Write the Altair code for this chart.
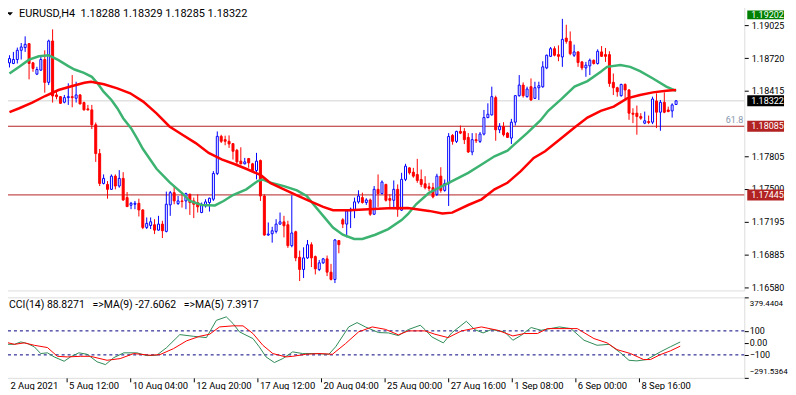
import altair as alt
import pandas as pd

FONT = "Roboto"
symbol = "EURUSD,H4"

# ---------------- candles ----------------
opens = [1.18676,1.18670,1.18707,1.18793,1.18818,1.18855,1.18676,1.18571,1.18608,1.18707,
         1.18494,1.18880,1.18377,1.18361,1.18309,1.18352,1.18361,1.18346,1.18377,1.18306,
         1.18247,1.18238,1.18099,1.17830,1.17552,1.17543,1.17497,1.17620,1.17528,1.17599,
         1.17420,1.17349,1.17358,1.17367,1.17305,1.17142,1.17160,1.17167,1.17117,1.17173,
         1.17105,1.17352,1.17466,1.17364,1.17389,1.17389,1.17451,1.17389,1.17374,1.17281,
         1.17343,1.17374,1.17405,1.17645,1.17991,1.17960,1.17945,1.17923,1.17861,1.17760,
         1.17735,1.17784,1.17735,1.17673,1.17766,1.17435,1.17071,1.17083,1.17105,1.17173,
         1.17194,1.17167,1.16972,1.17102,1.16864,1.16750,1.16858,1.16981,1.16870,1.16750,
         1.16812,1.16849,1.16725,1.16657,1.17019,1.17213,1.17173,1.17296,1.17303,1.17380,
         1.17420,1.17374,1.17398,1.17265,1.17497,1.17457,1.17543,1.17411,1.17395,1.17497,
         1.17303,1.17590,1.17697,1.17657,1.17635,1.17589,1.17549,1.17521,1.17512,1.17450,
         1.17620,1.17487,1.17549,1.18000,1.17944,1.18037,1.18037,1.17981,1.17845,1.17960,
         1.17944,1.18012,1.18166,1.18191,1.18352,1.18052,1.18083,1.18021,1.17975,1.18123,
         1.18370,1.18469,1.18361,1.18454,1.18345,1.18444,1.18453,1.18629,1.18737,1.18808,
         1.18753,1.18731,1.18907,1.18876,1.18747,1.18778,1.18685,1.18629,1.18648,1.18700,
         1.18670,1.18778,1.18753,1.18753,1.18494,1.18444,1.18370,1.18475,1.18423,1.18207,
         1.18207,1.18176,1.18114,1.18129,1.18123,1.18321,1.18216,1.18308,1.18237,1.18228,
         1.18288]
highs = [1.18747,1.18778,1.18818,1.18861,1.18923,1.18861,1.18685,1.18639,1.18747,1.18793,
         1.18892,1.18988,1.18407,1.18367,1.18377,1.18485,1.18562,1.18500,1.18386,1.18315,
         1.18284,1.18284,1.18120,1.17873,1.17636,1.17574,1.17636,1.17636,1.17676,1.17657,
         1.17472,1.17380,1.17389,1.17410,1.17312,1.17235,1.17235,1.17219,1.17250,1.17204,
         1.17476,1.17482,1.17528,1.17435,1.17451,1.17466,1.17457,1.17420,1.17451,1.17374,
         1.17405,1.17420,1.17667,1.18037,1.18006,1.17997,1.18000,1.17929,1.17874,1.17889,
         1.17790,1.17790,1.17744,1.17837,1.17775,1.17451,1.17188,1.17148,1.17219,1.17281,
         1.17250,1.17204,1.17441,1.17111,1.16926,1.16957,1.17025,1.17003,1.16880,1.16839,
         1.16858,1.16880,1.16802,1.17034,1.17025,1.17228,1.17312,1.17327,1.17420,1.17488,
         1.17466,1.17414,1.17411,1.17528,1.17636,1.17580,1.17549,1.17451,1.17580,1.17543,
         1.17651,1.17735,1.17703,1.17697,1.17781,1.17682,1.17620,1.17558,1.17558,1.17642,
         1.17703,1.17589,1.18021,1.18012,1.18043,1.18092,1.18068,1.18021,1.18021,1.18021,
         1.18031,1.18237,1.18299,1.18454,1.18370,1.18114,1.18123,1.18031,1.18154,1.18376,
         1.18562,1.18494,1.18454,1.18531,1.18500,1.18500,1.18691,1.18753,1.18824,1.18830,
         1.18839,1.19086,1.19031,1.18969,1.18846,1.18784,1.18691,1.18685,1.18716,1.18707,
         1.18802,1.18833,1.18815,1.18784,1.18577,1.18453,1.18481,1.18484,1.18432,1.18253,
         1.18278,1.18207,1.18222,1.18185,1.18361,1.18392,1.18330,1.18401,1.18268,1.18299,
         1.18329]
lows = [1.18633,1.18664,1.18670,1.18707,1.18778,1.18522,1.18593,1.18562,1.18602,1.18398,
        1.18469,1.18306,1.18336,1.18293,1.18299,1.18284,1.18262,1.18306,1.18290,1.18231,
        1.18231,1.18059,1.17753,1.17528,1.17543,1.17410,1.17491,1.17497,1.17512,1.17389,
        1.17333,1.17312,1.17312,1.17244,1.17126,1.17127,1.17127,1.17080,1.17111,1.17043,
        1.17096,1.17250,1.17358,1.17352,1.17327,1.17312,1.17259,1.17229,1.17281,1.17275,
        1.17327,1.17290,1.17389,1.17630,1.17929,1.17908,1.17883,1.17775,1.17729,1.17729,
        1.17729,1.17698,1.17661,1.17590,1.17389,1.17065,1.17065,1.17000,1.17086,1.17167,
        1.17049,1.16951,1.16957,1.16827,1.16642,1.16670,1.16849,1.16772,1.16704,1.16735,
        1.16802,1.16688,1.16648,1.16623,1.16901,1.17136,1.17049,1.17136,1.17228,1.17364,
        1.17364,1.17352,1.17250,1.17259,1.17333,1.17451,1.17383,1.17312,1.17312,1.17241,
        1.17296,1.17574,1.17635,1.17605,1.17558,1.17518,1.17497,1.17481,1.17413,1.17435,
        1.17466,1.17475,1.17342,1.17913,1.17929,1.18012,1.17919,1.17836,1.17815,1.17929,
        1.17929,1.18000,1.18160,1.18185,1.17950,1.18021,1.17990,1.17975,1.17919,1.18092,
        1.18361,1.18352,1.18352,1.18321,1.18339,1.18330,1.18444,1.18617,1.18731,1.18737,
        1.18691,1.18639,1.18855,1.18747,1.18731,1.18639,1.18608,1.18546,1.18562,1.18660,
        1.18660,1.18731,1.18685,1.18453,1.18376,1.18361,1.18361,1.18330,1.18145,1.18114,
        1.18006,1.18145,1.18105,1.18105,1.18105,1.18068,1.18043,1.18207,1.18216,1.18166,
        1.18285]
closes = [1.18716,1.18707,1.18793,1.18824,1.18849,1.18670,1.18624,1.18614,1.18707,1.18494,
          1.18880,1.18367,1.18361,1.18299,1.18352,1.18361,1.18352,1.18377,1.18293,1.18238,
          1.18238,1.18099,1.17830,1.17552,1.17599,1.17497,1.17620,1.17528,1.17599,1.17398,
          1.17336,1.17367,1.17367,1.17305,1.17142,1.17180,1.17195,1.17117,1.17173,1.17111,
          1.17358,1.17466,1.17389,1.17389,1.17383,1.17457,1.17374,1.17358,1.17334,1.17358,
          1.17380,1.17414,1.17645,1.17991,1.17945,1.17945,1.17920,1.17852,1.17753,1.17735,
          1.17753,1.17744,1.17673,1.17760,1.17435,1.17071,1.17080,1.17111,1.17173,1.17194,
          1.17157,1.16972,1.17090,1.16858,1.16750,1.16858,1.16981,1.16858,1.16756,1.16812,
          1.16849,1.16725,1.16657,1.17025,1.16981,1.17173,1.17296,1.17312,1.17380,1.17435,
          1.17374,1.17398,1.17265,1.17497,1.17457,1.17565,1.17395,1.17395,1.17497,1.17312,
          1.17590,1.17713,1.17651,1.17620,1.17580,1.17543,1.17512,1.17506,1.17426,1.17620,
          1.17487,1.17552,1.17990,1.17944,1.18037,1.18021,1.17960,1.17845,1.17960,1.17950,
          1.18012,1.18166,1.18197,1.18361,1.18052,1.18083,1.18006,1.17981,1.18123,1.18370,
          1.18469,1.18370,1.18432,1.18330,1.18444,1.18463,1.18639,1.18747,1.18808,1.18747,
          1.18737,1.18895,1.18876,1.18762,1.18778,1.18679,1.18629,1.18654,1.18700,1.18670,
          1.18784,1.18737,1.18737,1.18484,1.18444,1.18407,1.18475,1.18423,1.18207,1.18197,
          1.18176,1.18160,1.18136,1.18120,1.18339,1.18216,1.18308,1.18216,1.18222,1.18284,
          1.18322]

# ---------------- moving averages on price ----------------
green_ma_bar = [0,2.5,5,7.5,10,12.5,15,16.6,19,21,22.5,24,26,27.5,29,31,32.5,34,37.5,40.8,
                44,46,49,52.4,54.6,57,60.4,63.3,64.5,66.6,70,73.3,75.8,77.5,80,82.5,85,87.9,90,93.3,
                96.6,100,101.6,103.7,107,112,117,120.4,123.7,127,128.7,132,135.4,137.4,140.8,144.1,
                147.4,150.8,152.4,155.8,158.3,160.8,164.1,167.5,170]
green_ma = [1.18577,1.18639,1.18706,1.18738,1.18747,1.18701,1.18645,1.18614,1.18583,1.18546,
            1.18484,1.18407,1.18330,1.18253,1.18160,1.18067,1.17975,1.17875,1.17689,1.17564,
            1.17462,1.17388,1.17351,1.17347,1.17388,1.17444,1.17497,1.17574,1.17589,1.17558,
            1.17527,1.17488,1.17435,1.17358,1.17250,1.17141,1.17074,1.17034,1.17034,1.17074,
            1.17126,1.17210,1.17265,1.17358,1.17465,1.17558,1.17651,1.17728,1.17805,1.17858,
            1.17914,1.18021,1.18139,1.18229,1.18340,1.18454,1.18506,1.18593,1.18639,1.18655,
            1.18639,1.18599,1.18530,1.18454,1.18414]
red_ma_bar = [0,2.5,5.8,9.1,12.5,15.8,19.1,20.8,24.1,27.5,30.8,34.1,37.5,40.8,44.1,47.5,50.8,
              54.1,57.5,60.8,64.1,66.6,70,73.3,76.6,80,82.5,86.6,91.6,96.6,101.6,107,110.4,112.9,
              117,120.4,123.7,127,130.4,133.7,136.6,140.8,144.1,147.4,150.8,154.1,157.5,160.8,
              164.1,167.5,170]
red_ma = [1.18217,1.18253,1.18305,1.18367,1.18423,1.18458,1.18491,1.18500,1.18477,1.18438,
          1.18392,1.18315,1.18206,1.18083,1.18006,1.17928,1.17836,1.17777,1.17731,1.17682,
          1.17629,1.17555,1.17497,1.17441,1.17388,1.17333,1.17302,1.17302,1.17312,1.17321,
          1.17324,1.17296,1.17271,1.17280,1.17351,1.17404,1.17497,1.17558,1.17666,1.17790,
          1.17852,1.17975,1.18074,1.18166,1.18229,1.18268,1.18345,1.18377,1.18401,1.18416,
          1.18423]

# ---------------- CCI panel ----------------
cci_last = 88.8271
cci_ma5_bar = [0,2.5,4.1,5.8,7.5,9.1,10.8,12.5,15,16.6,18.7,20.8,23.3,25.4,27.5,30,33.3,35.8,
               38.3,40.8,44.1,47.5,50.8,53.3,55.8,57.5,59.1,62.5,64.1,65.8,67.9,70,72.5,75,78.3,
               81.6,83.3,86.6,88.7,90.8,94.1,96.6,99.1,101.6,104.6,105.8,107.5,110.4,112.5,116.2,
               118.3,120.4,122.5,125.8,127.9,130,132.5,135,139.6,142.5,145.8,149.1,152.1,155,
               157.1,159.1,161.6,165,167.5,170]
cci_ma5 = [-12,-12,8,-6,-33,-89,-83,-117,-153,-117,-83,-95,-158,-181,-123,-83,-83,-106,-103,-39,
           69,55,44,188,217,161,92,36,-33,-117,-164,-131,-75,-89,-89,-95,-33,133,169,133,
           86,83,61,111,147,111,50,0,83,180,111,83,111,92,22,63,128,105,133,119,
           22,-20,-12,-83,-145,-150,-139,-75,-33,7.3917]
cci_ma9_bar = [0,2.5,5,7.5,10.8,13.3,15.8,19.1,21.6,25.8,29.1,32.5,36.6,39.1,42.5,45.8,49.1,51.6,
               54.1,57.5,60,62.5,65,67.5,70.8,72.5,75.8,79.1,82.5,85.8,89.1,92.5,95.8,99.1,101.6,
               105.8,108.3,111.6,115,120,124.1,127.9,130.8,134.1,136.6,140.8,144.1,148.3,151.6,
               154.1,157.5,160.8,162.5,165,167.5,170]
cci_ma9 = [8,-12,0,-20,-39,-112,-117,-112,-112,-145,-131,-89,-103,-98,-48,17,55,72,133,142,
           142,78,-20,-89,-117,-112,-95,-89,-95,-6,92,133,113,67,100,100,72,44,100,133,
           105,58,78,78,119,119,119,36,0,-56,-89,-139,-139,-98,-67,-27.6062]
cci_levels = [100, -100]
cci_ticks = [-291.5364, -100, 0, 100, 379.4404]

# ---------------- axes / levels ----------------
time_tick_bars = [0, 16, 32, 48, 64, 80, 96, 112, 128, 144, 160]
time_tick_labels = ["2 Aug 2021", "5 Aug 12:00", "10 Aug 04:00", "12 Aug 20:00", "17 Aug 12:00",
                    "20 Aug 04:00", "25 Aug 00:00", "27 Aug 16:00", "1 Sep 08:00", "6 Sep 00:00",
                    "8 Sep 16:00"]
price_ticks = [1.16580, 1.16885, 1.17195, 1.17500, 1.17805, 1.18415, 1.18720, 1.19025]
level_prices = [1.19202, 1.18322, 1.18085, 1.17445]
level_colors = ["#008000", "#d3d3d3", "#b22222", "#b22222"]
box_colors = ["#008000", "#000000", "#b22222", "#b22222"]
fib_price = 1.18085
fib_text = "61.8"

# ---------------- tables ----------------
n = len(opens)
cd = pd.DataFrame({"bar": list(range(n)), "open": opens, "high": highs, "low": lows, "close": closes})
cd["up"] = cd["close"] >= cd["open"]
cd["blo"] = cd[["open", "close"]].min(axis=1)
cd["bhi"] = cd[["open", "close"]].max(axis=1)
cd["edge"] = cd["up"].map({True: "#0000ff", False: "#ff0000"})
cd["fillc"] = cd["up"].map({True: "#ffffff", False: "#ff0000"})

gma = pd.DataFrame({"bar": green_ma_bar, "v": green_ma})
rma = pd.DataFrame({"bar": red_ma_bar, "v": red_ma})
lv = pd.DataFrame({"price": level_prices, "col": level_colors, "box": box_colors})
lv_top = lv.iloc[:1]
lv_rest = lv.iloc[1:]
c5 = pd.DataFrame({"bar": cci_ma5_bar, "v": cci_ma5})
c9 = pd.DataFrame({"bar": cci_ma9_bar, "v": cci_ma9})
cl = pd.DataFrame({"v": cci_levels})

title_main = f"{symbol}\u00a0 {opens[-1]:.5f} {highs[-1]:.5f} {lows[-1]:.5f} {closes[-1]:.5f}"
title_cci = (f"CCI(14) {cci_last:.4f}\u00a0 \u00a0=>MA(9) {cci_ma9[-1]:.4f}"
             f"\u00a0 \u00a0=>MA(5) {cci_ma5[-1]:.4f}")

W, HM, HC = 746, 288, 81
xsc = alt.Scale(domain=[-0.375, -0.375 + W / 4], nice=False, zero=False)
ysc = alt.Scale(domain=[1.165549, 1.192223], nice=False, zero=False)
csc = alt.Scale(domain=[cci_ticks[0], cci_ticks[-1]], nice=False, zero=False)

yaxis = alt.Axis(orient="right", values=price_ticks, format=".5f", title=None, grid=False,
                 domain=False, tickSize=4, tickColor="black", labelColor="black",
                 labelFont=FONT, labelFontSize=9, labelPadding=3, labelOverlap=False,
                 labelFlush=False)
Xm = alt.X("bar:Q", scale=xsc, axis=None)


def Y(field):
    return alt.Y(field, scale=ysc, axis=yaxis)


BOX_X, BOX_W, BOX_H = W + 3 + 37 / 2, 37, 11
TXT_X = W + 7

rules = alt.Chart(lv).mark_rule(strokeWidth=1).encode(
    y=Y("price:Q"), color=alt.Color("col:N", scale=None))
wicks = alt.Chart(cd).mark_rule(strokeWidth=1).encode(
    x=Xm, y=Y("low:Q"), y2="high:Q", color=alt.Color("edge:N", scale=None))
bodies = alt.Chart(cd).mark_bar(size=2, strokeWidth=1).encode(
    x=Xm, y=Y("blo:Q"), y2="bhi:Q",
    fill=alt.Fill("fillc:N", scale=None), stroke=alt.Stroke("edge:N", scale=None))
gline = alt.Chart(gma).mark_line(strokeWidth=2.5, color="#3cb371").encode(x=Xm, y=Y("v:Q"))
rline = alt.Chart(rma).mark_line(strokeWidth=2.5, color="#ff0000").encode(x=Xm, y=Y("v:Q"))
fib = alt.Chart(pd.DataFrame({"price": [fib_price], "t": [fib_text]})).mark_text(
    align="right", baseline="middle", dy=-6, font=FONT, fontSize=9, color="#8796ad").encode(
    x=alt.value(W - 1), y=Y("price:Q"), text="t:N")
ttl = alt.Chart(pd.DataFrame({"t": [title_main]})).mark_text(
    align="left", baseline="middle", font=FONT, fontSize=11, color="black").encode(
    x=alt.value(16), y=alt.value(10), text="t:N")
tri = alt.Chart(pd.DataFrame({"t": [1]})).mark_point(
    shape="M-1,-0.55L1,-0.55L0,0.55Z", filled=True, size=36, color="black", opacity=1).encode(
    x=alt.value(7), y=alt.value(9.7))
# price label boxes on the right axis (top one kept inside the visible page)
boxes = alt.Chart(lv_rest).mark_tick(orient="horizontal", size=BOX_W, thickness=BOX_H, opacity=1).encode(
    x=alt.value(BOX_X), y=Y("price:Q"), color=alt.Color("box:N", scale=None))
boxtxt = alt.Chart(lv_rest).mark_text(
    align="left", baseline="middle", font=FONT, fontSize=9, color="white").encode(
    x=alt.value(TXT_X), y=Y("price:Q"), text=alt.Text("price:Q", format=".5f"))
boxes_top = alt.Chart(lv_top).mark_tick(orient="horizontal", size=BOX_W, thickness=9, opacity=1,
                                        yOffset=8.5).encode(
    x=alt.value(BOX_X), y=Y("price:Q"), color=alt.Color("box:N", scale=None))
boxtxt_top = alt.Chart(lv_top).mark_text(
    align="left", baseline="middle", font=FONT, fontSize=9, color="white", dy=8.5).encode(
    x=alt.value(TXT_X), y=Y("price:Q"), text=alt.Text("price:Q", format=".5f"))

main = alt.layer(rules, wicks, bodies, gline, rline, fib, ttl, tri,
                 boxes, boxtxt, boxes_top, boxtxt_top).properties(width=W, height=HM)

# CCI panel
lab_expr = " : ".join(f"datum.value == {b} ? '{t}'" for b, t in zip(time_tick_bars, time_tick_labels)) + " : ''"
xaxis = alt.Axis(values=time_tick_bars, labelExpr=lab_expr, labelAlign="left",
                 labelBaseline="alphabetic", labelPadding=7, tickSize=4, tickOffset=-1.5,
                 labelOffset={"condition": {"test": "datum.value == 0", "value": 7}, "value": 2},
                 labelFont=FONT, labelFontSize=9.5, labelColor="black",
                 tickColor="black", labelFlush=False, labelOverlap=False, domain=False,
                 grid=False, title=None)
Xc = alt.X("bar:Q", scale=xsc, axis=xaxis)
cci_expr = ("datum.value == 0 ? '0.00' : (abs(datum.value) == 100 ? format(datum.value, 'd') "
            ": format(datum.value, '.4f'))")
caxis = alt.Axis(orient="right", values=cci_ticks, labelExpr=cci_expr, title=None, grid=False,
                 domain=False, tickSize=4, tickColor="black", labelColor="black",
                 labelFont=FONT,
                 labelFontSize={"condition": {"test": "abs(datum.value) > 200", "value": 8}, "value": 9},
                 labelPadding=1, labelOverlap=False,
                 labelFlush=True, labelFlushOffset=-2)


def YC(field):
    return alt.Y(field, scale=csc, axis=caxis)


crules = alt.Chart(cl).mark_rule(strokeWidth=1, strokeDash=[3, 3], color="#000080").encode(
    y=YC("v:Q"))
c5l = alt.Chart(c5).mark_line(strokeWidth=1, color="#2e8b57").encode(x=Xc, y=YC("v:Q"))
c9l = alt.Chart(c9).mark_line(strokeWidth=1, color="#ff0000").encode(x=Xc, y=YC("v:Q"))
cttl = alt.Chart(pd.DataFrame({"t": [title_cci]})).mark_text(
    align="left", baseline="middle", font=FONT, fontSize=10.5, color="black").encode(
    x=alt.value(6), y=alt.value(8), text="t:N")

cci = alt.layer(crules, c5l, c9l, cttl).properties(width=W, height=HC)

chart = alt.vconcat(main, cci, spacing=3).properties(
    padding={"left": -6, "top": -6, "right": 0, "bottom": -2},
    background="white",
).configure_view(stroke="black", strokeWidth=1).configure(font=FONT)

chart.save("out.html", embed_options={"renderer": "svg", "actions": False})
